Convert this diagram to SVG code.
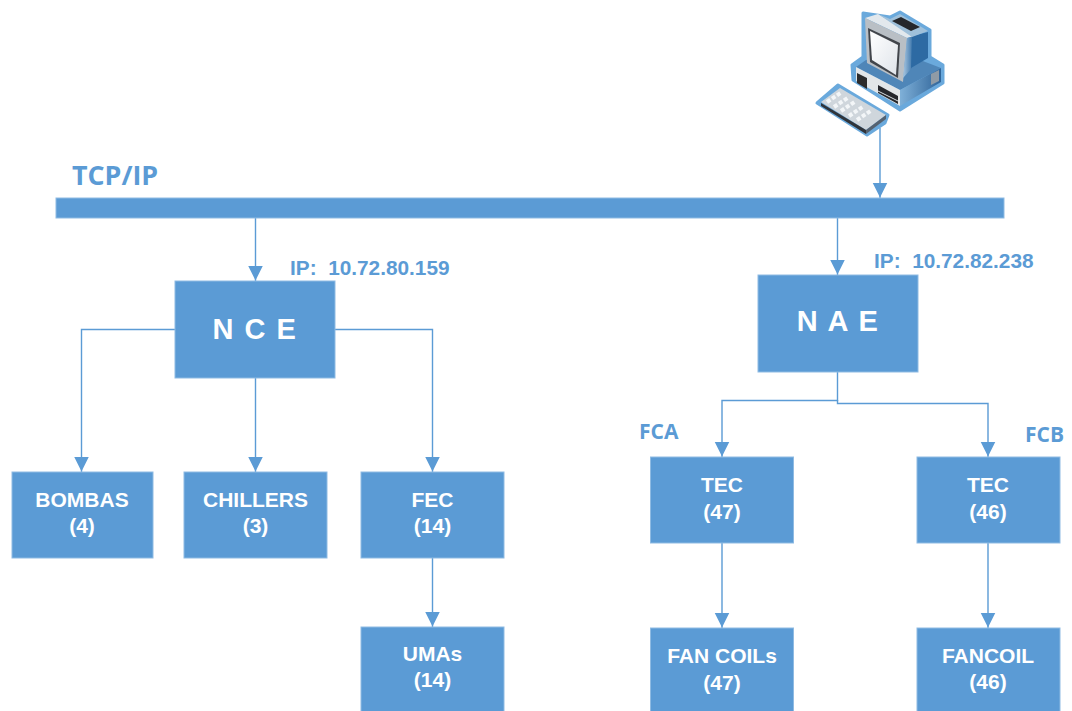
<svg xmlns="http://www.w3.org/2000/svg" width="1072" height="711" viewBox="0 0 1072 711">
<defs>
<marker id="arrow" markerUnits="userSpaceOnUse" markerWidth="16" markerHeight="16" refX="15.500" refY="7.500" orient="auto"><path d="M0 0L15 7.500L0 15Z" fill="#5b9bd5"/></marker>
<linearGradient id="side" x1="0" y1="0" x2="1" y2="0"><stop offset="0" stop-color="#7fb0d8"/><stop offset="1" stop-color="#2f6499"/></linearGradient>
<linearGradient id="mon" x1="0" y1="0" x2="1" y2="0"><stop offset="0" stop-color="#a9c8e2"/><stop offset="1" stop-color="#2d6aa3"/></linearGradient>
<linearGradient id="scr" x1="0" y1="0" x2="1" y2="1"><stop offset="0" stop-color="#fff"/><stop offset="1" stop-color="#dfe4ea"/></linearGradient>
</defs>
<style>
.box{fill:#5b9bd5;stroke:#8fbbe3;stroke-width:1}
.c{fill:none;stroke:#5b9bd5;stroke-width:1.4}
.a{marker-end:url(#arrow)}
text{font-family:"Liberation Sans",Arial,sans-serif;font-weight:700}
.w{fill:#fff;font-size:21px;text-anchor:middle}
.b{fill:#5b9bd5}
.ip{font-size:20.800px}
.big{fill:#fff;font-size:29px;text-anchor:middle;letter-spacing:1.500px}
.cal{font-family:"Open Sans","Liberation Sans",sans-serif;font-weight:700}
</style>
<rect width="1072" height="711" fill="#fff"/>
<g id="connectors">
<path class="c a" d="M880 128V198"/>
<path class="c a" d="M255.500 218V281"/>
<path class="c a" d="M837.500 218V275"/>
<path class="c a" d="M175 329.500H81.500V472"/>
<path class="c a" d="M255.500 378V472"/>
<path class="c a" d="M335 329.500H432.500V472"/>
<path class="c a" d="M432.500 558V627"/>
<path class="c a" d="M837.500 372V400.500H722V457"/>
<path class="c a" d="M837.500 400V403.500H988V457"/>
<path class="c a" d="M722 543V628"/>
<path class="c a" d="M988 543V628"/>
</g>
<g id="bus"><rect class="box" x="56" y="198" width="948" height="20"/></g>
<text id="tcp-label" class="b cal" x="72" y="185" style="font-size:26.800px">TCP/IP</text>
<g id="computer">
<path d="M852 65L863 57V13L890 17L900 12L930 30V57L943 65V83L900 110L853 80Z" fill="#6aa9dc" stroke="#6aa9dc" stroke-width="3" stroke-linejoin="round"/>
<path d="M856 67L866 60L915 58L941 68L900 90Z" fill="#4f86b8"/>
<path d="M900 90L941 68V82L900 106Z" fill="url(#side)"/>
<path d="M856 67L900 90V106L856 81Z" fill="#e3e6e8"/>
<path d="M857 73L867 78V89L857 83Z" fill="#2c2c2c"/>
<path d="M878 85L898 96V104L878 93Z" fill="#26272b"/>
<path d="M878 91L898 101" stroke="#d8dde0" stroke-width="1"/>
<path d="M931 74L939 70V81L931 85Z" fill="#8f9ba6"/>
<path d="M865 18L878 14L914 36L907 38Z" fill="#e2e8ed"/>
<path d="M865 18L907 38L903 82L867 63Z" fill="#b9bfc5"/>
<path d="M868 28L900 43L898 78L870 62Z" fill="#41454b"/>
<path d="M870 31L898 45L896 75L872 60Z" fill="url(#scr)"/>
<path d="M907 38L914 36L912 68L903 78Z" fill="url(#mon)"/>
<path d="M912 36L928 32V58L911 68Z" fill="#2d6aa3"/>
<path d="M878 14L890 19L900 14L928 31L912 37Z" fill="#9fc0da"/>
<path d="M892 21L901 17L920 27L911 31Z" fill="#25272b"/>
<path d="M817 103L838 85L888 115L885 123L867 135Z" fill="#6aa9dc" stroke="#6aa9dc" stroke-width="3" stroke-linejoin="round"/>
<path d="M821 102L840 88L886 115L866 130Z" fill="#cfd6dc"/>
<path d="M821 103L866 130V134L821 106Z" fill="#30343a"/>
<path d="M866 130L886 115V119L866 134Z" fill="#556270"/>
<path d="M827 102L842 92M834 107L849 97M841 111L856 101M849 116L864 106M857 120L872 110" stroke="#f3f6f8" stroke-width="4" stroke-dasharray="4 2" fill="none"/>
</g>
<g id="nce"><rect class="box" x="175" y="281" width="160" height="97"/><text class="big" x="255" y="339">N C E</text></g>
<text id="nce-ip" class="b ip" x="290" y="275" xml:space="preserve">IP:  10.72.80.159</text>
<g id="nae"><rect class="box" x="758" y="275" width="160" height="97"/><text class="big" x="838" y="331">N A E</text></g>
<text id="nae-ip" class="b ip" x="874" y="268" xml:space="preserve">IP:  10.72.82.238</text>
<g id="bombas"><rect class="box" x="12" y="472" width="141" height="86"/><text class="w" x="82" y="507">BOMBAS</text><text class="w" x="82" y="533">(4)</text></g>
<g id="chillers"><rect class="box" x="184" y="472" width="143" height="86"/><text class="w" x="255.500" y="507">CHILLERS</text><text class="w" x="255.500" y="533">(3)</text></g>
<g id="fec"><rect class="box" x="361" y="472" width="143" height="86"/><text class="w" x="432.500" y="507">FEC</text><text class="w" x="432.500" y="533">(14)</text></g>
<g id="umas"><rect class="box" x="361" y="627" width="143" height="90"/><text class="w" x="432.500" y="661">UMAs</text><text class="w" x="432.500" y="687">(14)</text></g>
<g id="tec-a"><rect class="box" x="650.500" y="457" width="143" height="86"/><text class="w" x="722" y="492">TEC</text><text class="w" x="722" y="519">(47)</text></g>
<g id="tec-b"><rect class="box" x="917" y="457" width="143" height="86"/><text class="w" x="988" y="492">TEC</text><text class="w" x="988" y="519">(46)</text></g>
<g id="fancoils"><rect class="box" x="650.500" y="628" width="143" height="90"/><text class="w" x="722" y="663">FAN COILs</text><text class="w" x="722" y="690">(47)</text></g>
<g id="fancoil"><rect class="box" x="917" y="628" width="143" height="90"/><text class="w" x="988" y="663">FANCOIL</text><text class="w" x="988" y="689">(46)</text></g>
<text id="fca" class="b cal" x="639" y="439" style="font-size:21px">FCA</text>
<text id="fcb" class="b cal" x="1025" y="442" style="font-size:21px">FCB</text>
</svg>
